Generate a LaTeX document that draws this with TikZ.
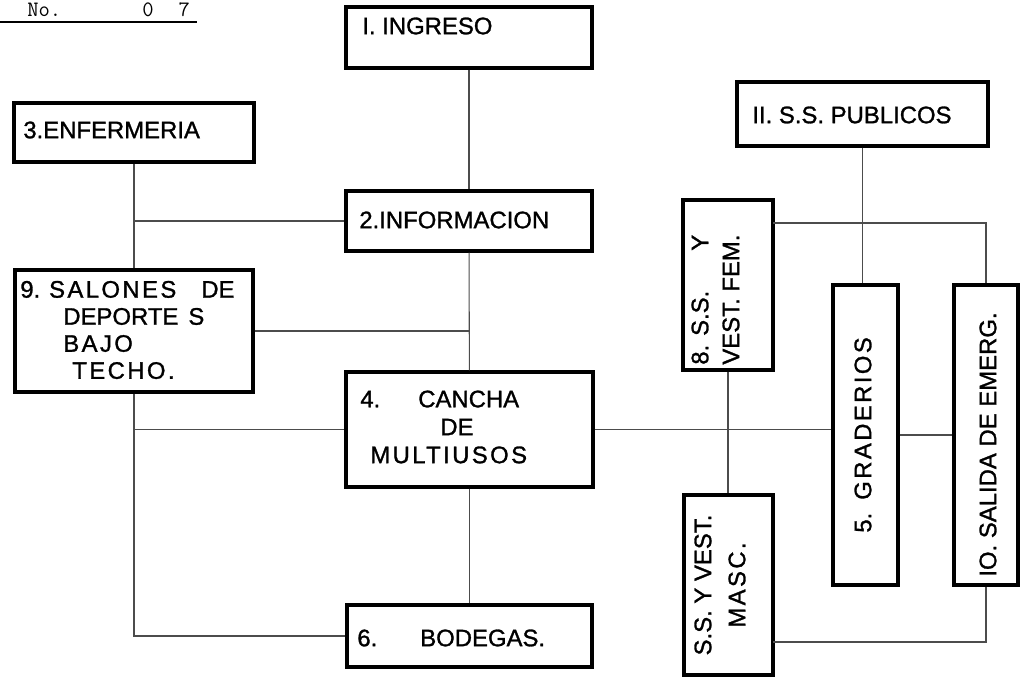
\documentclass[tikz,border=0pt]{standalone}
\usepackage{fontspec}
\setmainfont{Liberation Sans}
\newcommand{\lettersp}{\addfontfeature{LetterSpace=10}}
\tikzset{
  room/.style 2 args={draw, line width=1.8pt, minimum width=#1*0.02cm, minimum height=#2*0.02cm, inner sep=0pt},
  lbl/.style={font=\fontsize{13.6}{#1}\selectfont\addfontfeature{FakeBold=1.2}, inner sep=0pt},
  lbl/.default={16},
  link/.style={draw=black!70, line width=0.6pt}
}

\begin{document}
\begin{tikzpicture}[x=0.02cm, y=-0.02cm]
\useasboundingbox (0,0) rectangle (1021,677);
% header
\node[anchor=base west, inner sep=0pt, font=\ttfamily\fontsize{12.5}{14}\selectfont] (hdr) at (27,16) {No.\hspace{1.62cm}0\hspace{0.5cm}7};
\draw[line width=1pt] (0,22) -- (197,22);
% boxes
\node[room={246}{61}] (ingreso) at (469,37.5) {};
\node[room={246}{60}] (informacion) at (469,221) {};
\node[room={240}{59}] (enfermeria) at (134,132.5) {};
\node[room={238}{122}] (salones) at (134,331) {};
\node[room={247}{115}] (cancha) at (469.5,429.5) {};
\node[room={245}{62}] (bodegas) at (469.5,636) {};
\node[room={251}{64}] (publicos) at (862.5,114) {};
\node[room={90}{170}] (fem) at (728,285) {};
\node[room={89}{180}] (masc) at (728.5,585) {};
\node[room={65}{300}] (graderios) at (865.5,435) {};
\node[room={64}{300}] (salida) at (986,435) {};
% texts
\node[lbl, anchor=west] (t1) at (362,26) {I. INGRESO};
\node[lbl, anchor=west] (t2) at (359,220) {2.INFORMACION};
\node[lbl, anchor=west] (t3) at (23,130) {3.ENFERMERIA};
\node[lbl=15.4, anchor=west, align=left] (t9) at (20,330)
  {9. {\lettersp SALONES}\hspace{0.5cm}DE\\\hspace*{0.86cm}DEPORTE\hspace{0.2cm}S\\\hspace*{0.86cm}{\lettersp BAJO}\\\hspace*{1.04cm}{\lettersp TECHO.}};
\node[lbl=15.9, anchor=west, align=left] (t4) at (360,427)
  {4.\hspace{0.76cm}CANCHA\\\hspace*{1.6cm}DE\\\hspace*{0.2cm}{\lettersp MULTIUSOS}};
\node[lbl, anchor=west] (t6) at (357,638) {6.\hspace{0.86cm}BODEGAS.};
\node[lbl, anchor=west] (t11) at (752,115) {II. S.S. PUBLICOS};
\node[lbl=17.6, rotate=90, anchor=west, align=left] (t8) at (715.5,365) {8. S.S.\hspace{0.8cm}Y\\VEST. FEM.};
\node[lbl=19.4, rotate=90, align=center] (t7) at (720,585) {S.S. Y VEST.\\{\lettersp MASC.}};
\node[lbl, rotate=90, anchor=west] (t5) at (863,533) {5.\hspace{0.26cm}{\lettersp GRADERIOS}};
\node[lbl, rotate=90, anchor=west] (t10) at (988,577) {IO. SALIDA DE EMERG.};
% connectors
\coordinate (femtap) at (773,223);
\coordinate (masctap) at (773,642);
\draw[link] (ingreso) -- (informacion);
\draw[link] (informacion) -- (cancha);
\draw[link] (cancha) -- (bodegas);
\draw[link] (enfermeria) -- (salones);
\draw[link] (enfermeria.south |- informacion.west) -- (informacion.west);
\draw[link] (salones.east) -- (salones.east -| informacion.south);
\draw[link] (salones.south) |- (bodegas.west);
\draw[link] (salones.south |- cancha.west) -- (cancha.west);
\draw[link] (cancha.east) -- (cancha.east -| graderios.west);
\draw[link] (graderios) -- (salida);
\draw[link] (publicos.south) -- (publicos.south |- graderios.north);
\draw[link] (fem.south) -- (fem.south |- masc.north);
\draw[link] (femtap) -| (salida.north);
\draw[link] (masctap) -| (salida.south);
\end{tikzpicture}
\end{document}
